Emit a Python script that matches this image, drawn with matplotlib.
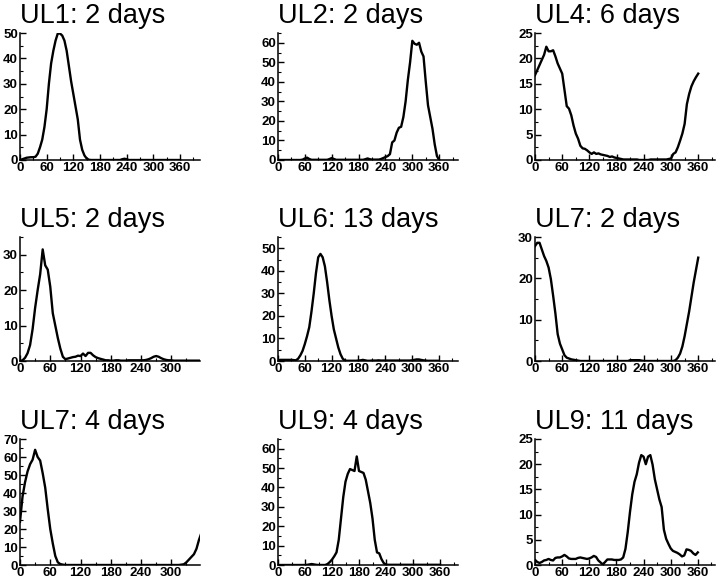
import numpy as np
import matplotlib
matplotlib.use("Agg")
import matplotlib.pyplot as plt
from matplotlib.ticker import MultipleLocator

plt.rcParams["font.family"] = ["Liberation Sans", "DejaVu Sans"]

# angle bins (degrees), 5 degree steps 0..360
angles = np.arange(0, 361, 5)

titles = ["UL1: 2 days", "UL2: 2 days", "UL4: 6 days",
          "UL5: 2 days", "UL6: 13 days", "UL7: 2 days",
          "UL7: 4 days", "UL9: 4 days", "UL9: 11 days"]

ul1_2d = [0, 0.3, 0.6, 0.9, 1.0, 1.1, 1.1, 1.3, 2.5, 5, 8, 13,
          20, 30, 38, 43, 47, 49.8, 49.8, 49, 47, 43, 37, 31,
          26, 21, 16, 8, 4, 1.8, 0.6, 0.1, 0, 0, 0, 0,
          0, 0, 0, 0, 0, 0, 0, 0, 0, 0, 0.3, 0.5,
          0.3, 0, 0, 0, 0, 0, 0, 0, 0, 0, 0, 0,
          0, 0, 0, 0, 0, 0, 0, 0, 0, 0, 0, 0, 0]

ul2_2d = [0, 0, 0, 0, 0, 0, 0, 0, 0, 0, 0, 0.2,
          0.8, 1.2, 0.5, 0.1, 0.1, 0.1, 0.1, 0.1, 0.1, 0.1, 0.1, 0.5,
          1.0, 0.5, 0.1, 0.1, 0.1, 0.1, 0.1, 0.1, 0.1, 0.1, 0.1, 0.1,
          0.1, 0.1, 0.1, 0.4, 0.8, 0.4, 0.2, 0.2, 0.2, 0.2, 0.5, 1.0,
          1.5, 2.0, 3.0, 9, 10, 14, 16.5, 17, 22, 30, 41, 50,
          61, 59.5, 59, 60, 55.5, 53, 40, 28, 22, 16, 8, 2, 0]

ul4_6d = [16.7, 17.7, 18.7, 19.7, 20.7, 22.3, 21.4, 21.4, 21.6, 20.4, 19, 18,
          17, 13.8, 10.6, 10.1, 8.8, 6.8, 5.2, 4.2, 2.8, 2.3, 2.2, 1.9,
          1.5, 1.2, 1.5, 1.2, 1.3, 1.1, 1.0, 0.9, 0.8, 0.6, 0.7, 0.5,
          0.4, 0.3, 0.2, 0.1, 0.1, 0.1, 0.1, 0.1, 0.1, 0.1, 0, 0,
          0, 0, 0, 0.1, 0.1, 0.1, 0.1, 0.1, 0.1, 0.1, 0.1, 0.2,
          0.3, 1.2, 1.5, 2.5, 3.8, 5.2, 7.1, 11, 13, 14.5, 15.5, 16.3, 17]

ul5_2d = [0, 0.2, 0.9, 2.2, 4.5, 9, 15, 20, 24.5, 31.5, 27, 25.8,
          21, 13.5, 10, 6.5, 3.5, 1.2, 0.5, 0.7, 0.9, 1.1, 1.2, 1.5,
          1.4, 2.1, 1.4, 2.3, 2.3, 1.6, 1.1, 0.8, 0.6, 0.4, 0.2, 0.2,
          0.1, 0.1, 0.2, 0.2, 0.1, 0.1, 0.1, 0.2, 0.2, 0.2, 0.2, 0.2,
          0.2, 0.2, 0.3, 0.5, 0.8, 1.2, 1.4, 1.2, 0.8, 0.5, 0.3, 0.2,
          0.2, 0.1, 0.1, 0.1, 0.1, 0.1, 0.1, 0.1, 0.1, 0.1, 0.1, 0.1, 0.1]

ul6_13d = [0.3, 0.5, 0.5, 0.5, 0.5, 0.5, 0.5, 0.4, 0.3, 1, 2.5, 4.5,
           7.5, 11, 15, 22, 30, 39, 46, 47.5, 46, 42, 35, 27,
           20, 14, 10, 6, 3, 1, 0.2, 0.1, 0.1, 0.1, 0.1, 0.1,
           0.2, 0.3, 0.5, 0.3, 0.1, 0.1, 0.2, 0.2, 0.2, 0.3, 0.2, 0.2,
           0.2, 0.2, 0.2, 0.2, 0.2, 0.2, 0.2, 0.2, 0.2, 0.2, 0.2, 0.2,
           0.3, 0.5, 0.7, 0.7, 0.5, 0.3, 0.2, 0.1, 0.1, 0.1, 0.1, 0.1, 0.1]

ul7_2d = [27.8, 28.6, 28.6, 27, 25.4, 24.2, 22.6, 19.8, 15.8, 11.5, 6.5, 4.2,
          2.8, 1.4, 0.8, 0.6, 0.4, 0.3, 0.2, 0.1, 0, 0, 0, 0,
          0, 0, 0, 0, 0, 0, 0, 0, 0, 0, 0, 0,
          0, 0, 0, 0, 0, 0, 0.2, 0.2, 0.2, 0.2, 0.2, 0.1,
          0, 0, 0, 0, 0, 0, 0, 0, 0, 0, 0, 0,
          0, 0, 0.2, 0.8, 1.8, 3.5, 6, 9, 12, 15.5, 19, 22, 25]

ul7_4d = [24, 38, 46, 52, 56, 58.5, 64, 60, 58, 51, 43, 31,
          20, 12, 5, 1.5, 0.5, 0.2, 0, 0, 0, 0, 0, 0,
          0, 0, 0, 0, 0, 0, 0, 0, 0, 0, 0, 0,
          0, 0, 0, 0, 0, 0, 0, 0, 0, 0, 0, 0,
          0, 0, 0, 0, 0, 0, 0, 0, 0, 0, 0, 0,
          0, 0, 0, 0, 0.2, 0.4, 1.5, 3, 4.5, 6, 9, 14, 18]

ul9_4d = [0, 0, 0, 0, 0, 0, 0, 0, 0, 0, 0, 0,
          0, 0.1, 0.3, 0.5, 0.3, 0.1, 0, 0, 0, 0, 0.5, 1.5,
          2.8, 4.5, 6.5, 13, 24, 35, 43, 47, 49.5, 49, 48.5, 56,
          48.5, 48, 47.5, 44, 38, 32, 24, 13, 6.5, 6, 3, 1,
          0.2, 0.1, 0.1, 0.1, 0.1, 0.1, 0.1, 0.1, 0.1, 0.1, 0.1, 0.1,
          0.1, 0.1, 0.1, 0.1, 0.1, 0.1, 0.1, 0.1, 0.1, 0.1, 0.1, 0.1, 0.1]

ul9_11d = [1.0, 0.6, 0.4, 0.6, 0.9, 1.0, 1.2, 1.0, 0.9, 1.4, 1.5, 1.5,
           1.7, 2.0, 1.7, 1.3, 1.2, 1.2, 1.2, 1.4, 1.5, 1.4, 1.3, 1.2,
           1.3, 1.5, 1.8, 1.6, 0.9, 0.5, 0.1, 0.6, 1.1, 1.1, 1.1, 1.0,
           1.0, 1.0, 1.1, 1.5, 3.2, 6.5, 10.5, 14, 16.5, 18, 20.3, 21.8,
           21.5, 20, 21.5, 21.8, 19.9, 17, 15, 13, 11.5, 7, 5.2, 4.2,
           3.3, 2.8, 2.6, 2.4, 2.1, 1.7, 1.9, 3.1, 3.0, 2.8, 2.3, 2.0, 2.5]

series = [ul1_2d, ul2_2d, ul4_6d, ul5_2d, ul6_13d, ul7_2d, ul7_4d, ul9_4d, ul9_11d]
y_max = [50, 65, 25, 35, 55, 30, 70, 65, 25]
y_step = [10, 10, 5, 10, 10, 10, 10, 10, 5]
x_max = [405, 402, 397, 357, 403, 397, 357, 400, 398]

# axes boxes in pixels (left, right, top, bottom)
col_lr = [(20, 200), (278, 458), (535, 715)]
row_tb = [(33, 160), (237, 361), (439, 565)]

W, H = 720, 581
fig = plt.figure(figsize=(W / 100, H / 100), dpi=100)

for i in range(9):
    r, c = divmod(i, 3)
    l, rr = col_lr[c]
    t, b = row_tb[r]
    ax = fig.add_axes([l / W, 1 - b / H, (rr - l) / W, (b - t) / H])
    ax.plot(angles, series[i], color="black", lw=1.7, solid_joinstyle="round")
    ax.set_xlim(0, x_max[i])
    ax.set_ylim(0, y_max[i])
    ax.xaxis.set_major_locator(MultipleLocator(60))
    ax.xaxis.set_minor_locator(MultipleLocator(30))
    ax.yaxis.set_major_locator(MultipleLocator(y_step[i]))
    ax.yaxis.set_minor_locator(MultipleLocator(y_step[i] / 2))
    for s in ["top", "right"]:
        ax.spines[s].set_visible(False)
    for s in ["left", "bottom"]:
        ax.spines[s].set_linewidth(1.1)
    ax.tick_params(which="major", direction="in", length=4, width=1,
                   labelsize=9.5, pad=1.5)
    ax.tick_params(which="minor", direction="in", length=2.5, width=0.8)
    for lab in ax.get_xticklabels() + ax.get_yticklabels():
        lab.set_fontweight("bold")
    ax.set_title(titles[i], loc="left", fontsize=19.5, pad=7)

fig.savefig("out.png", dpi=100)
